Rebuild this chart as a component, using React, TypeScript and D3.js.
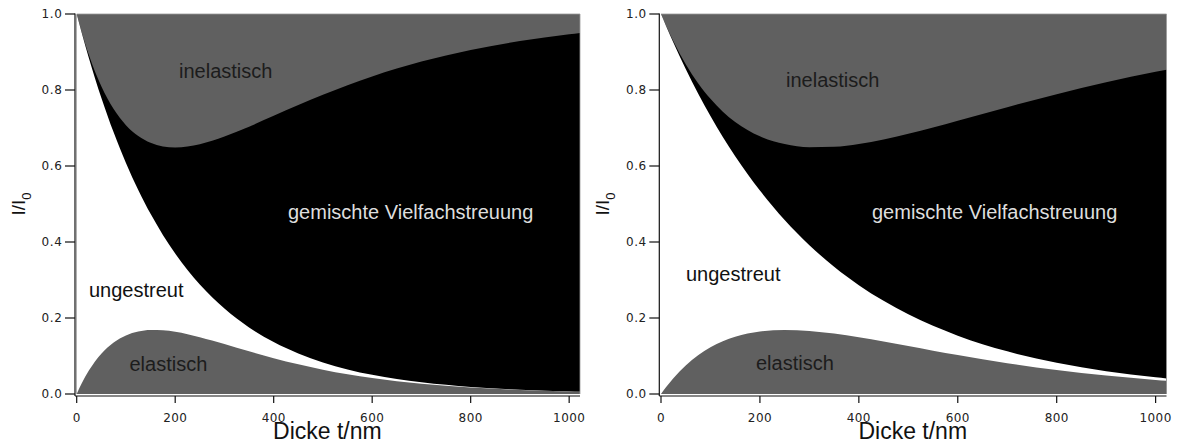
import React from "react";
import * as d3 from "d3";

// Thickness samples (nm)
const tLeft = [0, 10, 25, 50, 75, 100, 125, 150, 175, 200, 225, 250, 275, 300, 350, 400, 450, 500, 550, 600, 700, 800, 900, 1000, 1022];
const leftElastic = [0, 0.0274, 0.0623, 0.1061, 0.1356, 0.1542, 0.1644, 0.1684, 0.1677, 0.1637, 0.1574, 0.1495, 0.1407, 0.1313, 0.1123, 0.0943, 0.078, 0.0639, 0.0518, 0.0418, 0.0268, 0.0169, 0.0105, 0.0065, 0.0059];
const leftUnscattered = [1, 0.9241, 0.8208, 0.6737, 0.553, 0.4539, 0.3725, 0.3058, 0.251, 0.206, 0.1691, 0.1388, 0.1139, 0.0935, 0.063, 0.0424, 0.0286, 0.0193, 0.013, 0.0087, 0.004, 0.0018, 0.0008, 0.0004, 0.0003];
const leftMixed = [0, 0.0014, 0.0082, 0.03, 0.0613, 0.0994, 0.1418, 0.1867, 0.2328, 0.2791, 0.3247, 0.3691, 0.4118, 0.4528, 0.5283, 0.5953, 0.6537, 0.7044, 0.7479, 0.7852, 0.8441, 0.8867, 0.9175, 0.9397, 0.9438];
const leftInelastic = [0, 0.0471, 0.1087, 0.1903, 0.2501, 0.2926, 0.3213, 0.3392, 0.3485, 0.3512, 0.3489, 0.3426, 0.3336, 0.3224, 0.2964, 0.2681, 0.2397, 0.2125, 0.1873, 0.1643, 0.1252, 0.0946, 0.0711, 0.0534, 0.0501];

const tRight = [0, 10, 25, 50, 75, 100, 125, 150, 200, 250, 300, 350, 400, 450, 500, 550, 600, 700, 800, 900, 1000, 1022];
const rightElastic = [0, 0.0177, 0.0415, 0.0751, 0.1019, 0.1229, 0.1389, 0.1508, 0.1647, 0.1687, 0.166, 0.1589, 0.1492, 0.1379, 0.126, 0.1141, 0.1025, 0.0812, 0.0632, 0.0486, 0.037, 0.0348];
const rightUnscattered = [1, 0.9516, 0.8833, 0.7802, 0.6892, 0.6088, 0.5377, 0.475, 0.3706, 0.2892, 0.2256, 0.176, 0.1373, 0.1072, 0.0836, 0.0652, 0.0509, 0.031, 0.0189, 0.0115, 0.007, 0.0063];
const rightMixed = [0, 0.0006, 0.0034, 0.0127, 0.0269, 0.0451, 0.0664, 0.0902, 0.143, 0.1998, 0.2579, 0.3156, 0.3715, 0.4248, 0.4751, 0.5221, 0.5657, 0.6426, 0.707, 0.7602, 0.804, 0.8125];
const rightInelastic = [0, 0.0302, 0.0718, 0.132, 0.182, 0.2233, 0.257, 0.284, 0.3218, 0.3424, 0.3505, 0.3495, 0.342, 0.3301, 0.3153, 0.2986, 0.281, 0.2452, 0.2109, 0.1797, 0.1521, 0.1465];

const xTicks = [0, 200, 400, 600, 800, 1000];
const yTicks = [0, 0.2, 0.4, 0.6, 0.8, 1.0];
const keys = ["elastisch", "ungestreut", "gemischt", "inelastisch"];
const fills: Record<string, string> = {
  elastisch: "#606060",
  ungestreut: "#ffffff",
  gemischt: "#000000",
  inelastisch: "#606060",
};

type Label = { text: string; x: number; y: number; color: string };

function Panel(props: {
  t: number[];
  e: number[];
  u: number[];
  m: number[];
  i: number[];
  x0: number;
  x1: number;
  labels: Label[];
}) {
  const { t, e, u, m, i, x0, x1, labels } = props;
  const x = d3.scaleLinear().domain([0, 1022]).range([x0, x1]);
  const y = d3.scaleLinear().domain([0, 1]).range([394, 14]);
  const rows = t.map((tt, k) => ({ t: tt, elastisch: e[k], ungestreut: u[k], gemischt: m[k], inelastisch: i[k] }));
  const series = d3.stack<any>().keys(keys)(rows);
  const area = d3
    .area<any>()
    .x((d) => x(d.data.t))
    .y0(y(0))
    .y1((d) => y(Math.min(1, d[1])))
    .curve(d3.curveMonotoneX);
  const axisX = x0 - 1.7;
  const axisY = 396;
  const font = "'DejaVu Sans', sans-serif";
  return (
    <g>
      {series
        .slice()
        .reverse()
        .map((s) => (
          <path key={s.key} d={area(s) || ""} fill={fills[s.key]} />
        ))}
      <line x1={x0} x2={x1} y1={14} y2={14} stroke="#9a9a9a" strokeWidth={0.8} />
      <line x1={x1} x2={x1} y1={14} y2={394} stroke="#9a9a9a" strokeWidth={0.8} />
      {/* y axis */}
      <line x1={axisX} x2={axisX} y1={13.5} y2={axisY} stroke="#111" strokeWidth={1.2} />
      {yTicks.map((v) => (
        <g key={v}>
          <line x1={axisX - 10} x2={axisX} y1={y(v)} y2={y(v)} stroke="#111" strokeWidth={1.2} />
          <text x={axisX - 12.5} y={y(v)} dy="0.35em" textAnchor="end" fontFamily={font} fontSize={12} fill="#222" letterSpacing={0.6}>
            {v.toFixed(1)}
          </text>
        </g>
      ))}
      {/* x axis */}
      <line x1={axisX} x2={x1} y1={axisY} y2={axisY} stroke="#111" strokeWidth={1.2} />
      {xTicks.map((v) => (
        <g key={v}>
          <line x1={x(v)} x2={x(v)} y1={axisY} y2={axisY + 7} stroke="#111" strokeWidth={1.2} />
          <text x={x(v)} y={422} textAnchor="middle" fontFamily={font} fontSize={12} fill="#222" letterSpacing={0.4}>
            {v}
          </text>
        </g>
      ))}
      {labels.map((l) => (
        <text key={l.text} x={l.x} y={l.y} fontFamily="'Liberation Sans', Arial, sans-serif" fontSize={20} fill={l.color}>
          {l.text}
        </text>
      ))}
      {/* axis titles */}
      <text
        transform={`translate(${axisX - 50},204) rotate(-90)`}
        textAnchor="middle"
        fontFamily="'Liberation Sans', Arial, sans-serif"
        fontSize={19}
        fill="#111"
      >
        I/I
        <tspan fontSize={13} dy={6}>
          0
        </tspan>
      </text>
      <text
        x={(x(0) + x(1022)) / 2 - 1}
        y={439}
        textAnchor="middle"
        fontFamily="'Liberation Sans', Arial, sans-serif"
        fontSize={23}
        fill="#111"
      >
        Dicke t/nm
      </text>
    </g>
  );
}

export default function App() {
  return (
    <svg width={1177} height={441} style={{ position: "absolute", left: 0, top: 0, background: "#fff" }}>
      <Panel
        t={tLeft}
        e={leftElastic}
        u={leftUnscattered}
        m={leftMixed}
        i={leftInelastic}
        x0={76.7}
        x1={580}
        labels={[
          { text: "inelastisch", x: 179, y: 78, color: "#1c1c1c" },
          { text: "gemischte Vielfachstreuung", x: 288, y: 219, color: "#dedede" },
          { text: "ungestreut", x: 89, y: 297, color: "#111" },
          { text: "elastisch", x: 129.5, y: 370.5, color: "#1c1c1c" },
        ]}
      />
      <Panel
        t={tRight}
        e={rightElastic}
        u={rightUnscattered}
        m={rightMixed}
        i={rightInelastic}
        x0={661}
        x1={1166.5}
        labels={[
          { text: "inelastisch", x: 786, y: 87, color: "#1c1c1c" },
          { text: "gemischte Vielfachstreuung", x: 872, y: 219, color: "#dedede" },
          { text: "ungestreut", x: 686, y: 281, color: "#111" },
          { text: "elastisch", x: 756, y: 370, color: "#1c1c1c" },
        ]}
      />
    </svg>
  );
}
